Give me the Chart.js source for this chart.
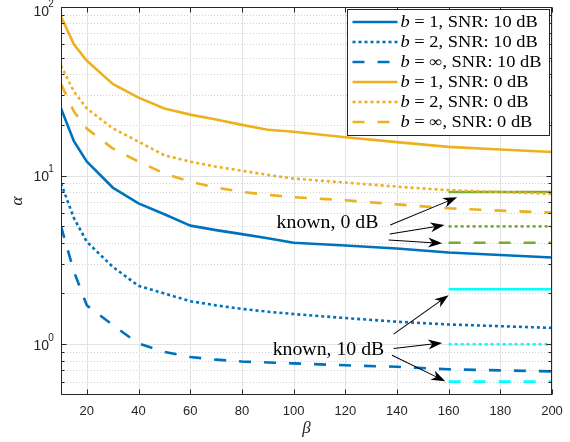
<!DOCTYPE html>
<html>
<head>
<meta charset="utf-8">
<script src="https://cdn.jsdelivr.net/npm/chart.js@4.4.0/dist/chart.umd.min.js"></script>
<style>
  body { margin: 0; background: #fff; }
  canvas { display: block; }
</style>
</head>
<body>
<canvas id="alphaChart" width="570" height="442"></canvas>
<script>
// beta values where the curves were sampled
const betaValues = [10, 15, 20, 30, 40, 50, 60, 70, 80, 90, 100, 120, 140, 160, 180, 200];

// alpha, SNR 10 dB
const alphaB1Snr10 = [25, 16, 12.1, 8.5, 6.85, 5.9, 5.05, 4.75, 4.5, 4.25, 4.0, 3.85, 3.7, 3.5, 3.38, 3.27];
const alphaB2Snr10 = [9.0, 5.6, 4.05, 2.88, 2.22, 2.0, 1.8, 1.7, 1.62, 1.56, 1.51, 1.43, 1.36, 1.31, 1.28, 1.25];
const alphaBinfSnr10 = [5.0, 2.7, 1.7, 1.3, 1.01, 0.9, 0.84, 0.81, 0.79, 0.78, 0.77, 0.75, 0.735, 0.71, 0.70, 0.69];

// alpha, SNR 0 dB
const alphaB1Snr0 = [88, 60, 48, 35, 29, 25, 23, 21.5, 20, 18.7, 18.2, 16.9, 15.8, 14.8, 14.3, 13.8];
const alphaB2Snr0 = [45, 31.5, 25, 19.1, 15.9, 13.2, 12.1, 11.3, 10.7, 10.1, 9.6, 9.1, 8.6, 8.2, 8.0, 7.8];
const alphaBinfSnr0 = [35, 24, 19, 14.5, 12.1, 10.3, 9.2, 8.5, 8.0, 7.7, 7.45, 7.15, 6.75, 6.4, 6.2, 6.03];

// "known" levels (b = 1, 2, inf), drawn over beta 160..200
const knownBeta = [160, 200];
const known0dB = [8.0, 5.0, 4.0];
const known10dB = [2.12, 1.0, 0.6];

// axis ticks
const xTicks = [20, 40, 60, 80, 100, 120, 140, 160, 180, 200];
const yMajorTicks = [1, 10, 100];
const yMinorTicks = [0.6, 0.7, 0.8, 0.9, 2, 3, 4, 5, 6, 7, 8, 9, 20, 30, 40, 50, 60, 70, 80, 90];

const legendLabels = [
  "b = 1, SNR: 10 dB", "b = 2, SNR: 10 dB", "b = \u221e, SNR: 10 dB",
  "b = 1, SNR: 0 dB", "b = 2, SNR: 0 dB", "b = \u221e, SNR: 0 dB"
];

const BLUE = "#0072bd", YELLOW = "#edb120", GREEN = "#77ac30", CYAN = "#00ffff";
const SOLID = [], DOTTED = [3, 3], DASHED = [12, 13];
const SANS = "'Liberation Sans', Arial, sans-serif";
const SERIF = "'Liberation Serif', 'Times New Roman', serif";

function series(values) {
  return betaValues.map((b, i) => ({ x: b, y: values[i] }));
}
function flat(level) {
  return knownBeta.map(b => ({ x: b, y: level }));
}
function line(label, data, color, dash) {
  return { label, data, borderColor: color, borderDash: dash, borderWidth: 2.6, fill: false };
}

const datasets = [
  line(legendLabels[0], series(alphaB1Snr10), BLUE, SOLID),
  line(legendLabels[1], series(alphaB2Snr10), BLUE, DOTTED),
  line(legendLabels[2], series(alphaBinfSnr10), BLUE, DASHED),
  line(legendLabels[3], series(alphaB1Snr0), YELLOW, SOLID),
  line(legendLabels[4], series(alphaB2Snr0), YELLOW, DOTTED),
  line(legendLabels[5], series(alphaBinfSnr0), YELLOW, DASHED),
  line("known 0 dB, b=1", flat(known0dB[0]), GREEN, SOLID),
  line("known 0 dB, b=2", flat(known0dB[1]), GREEN, DOTTED),
  line("known 0 dB, b=inf", flat(known0dB[2]), GREEN, DASHED),
  line("known 10 dB, b=1", flat(known10dB[0]), CYAN, SOLID),
  line("known 10 dB, b=2", flat(known10dB[1]), CYAN, DOTTED),
  line("known 10 dB, b=inf", flat(known10dB[2]), CYAN, DASHED)
];

// text + arrows, in data coordinates
const notes = [
  { text: "known, 0 dB", at: [132.8, 4.87],
    arrows: [[[137.4, 5.09], [163.3, 7.44]], [[137.2, 4.5], [158.4, 5.09]], [[136.8, 4.15], [157.5, 3.97]]] },
  { text: "known, 10 dB", at: [135.1, 0.86],
    arrows: [[[138.7, 1.147], [160.0, 1.955]], [[138.7, 0.943], [157.5, 1.018]], [[138.1, 0.86], [158.7, 0.603]]] }
];

function hLine(ctx, x0, x1, y) { ctx.beginPath(); ctx.moveTo(x0, y); ctx.lineTo(x1, y); ctx.stroke(); }
function vLine(ctx, x, y0, y1) { ctx.beginPath(); ctx.moveTo(x, y0); ctx.lineTo(x, y1); ctx.stroke(); }

// serif text stretched a bit, to get closer to the wide LaTeX look
function wideText(ctx, text, x, y, stretch) {
  ctx.save();
  ctx.translate(x, y);
  ctx.scale(stretch, 1);
  ctx.fillText(text, 0, 0);
  ctx.restore();
  return ctx.measureText(text).width * stretch;
}

/* MATLAB-ish axes: grid under the lines, box + inward ticks + labels on top */
const matlabAxes = {
  id: "matlabAxes",
  beforeDatasetsDraw(chart) {
    const { ctx, chartArea: a, scales: { x, y } } = chart;
    ctx.save();
    ctx.lineWidth = 1;
    ctx.strokeStyle = "#d2d2d2";
    ctx.setLineDash([1, 2]);
    yMinorTicks.forEach(v => hLine(ctx, a.left, a.right, Math.round(y.getPixelForValue(v)) + 0.5));
    ctx.setLineDash([]);
    ctx.strokeStyle = "#e2e2e2";
    xTicks.forEach(v => vLine(ctx, Math.round(x.getPixelForValue(v)) + 0.5, a.top, a.bottom));
    yMajorTicks.forEach(v => hLine(ctx, a.left, a.right, Math.round(y.getPixelForValue(v)) + 0.5));
    ctx.restore();
  },
  afterDatasetsDraw(chart) {
    const { ctx, chartArea: a, scales: { x, y } } = chart;
    const L = Math.round(a.left) + 0.5, R = Math.round(a.right) - 0.5;
    const T = Math.round(a.top) + 0.5, B = Math.round(a.bottom) - 0.5;
    ctx.save();
    ctx.strokeStyle = "#262626";
    ctx.lineWidth = 1;
    ctx.strokeRect(L, T, R - L, B - T);
    xTicks.forEach(v => {
      const px = Math.round(x.getPixelForValue(v)) + 0.5;
      vLine(ctx, px, B, B - 5);
      vLine(ctx, px, T, T + 5);
    });
    yMajorTicks.concat(yMinorTicks).forEach(v => {
      const py = Math.round(y.getPixelForValue(v)) + 0.5;
      const len = yMajorTicks.includes(v) ? 5 : 3;
      hLine(ctx, L, L + len, py);
      hLine(ctx, R, R - len, py);
    });

    ctx.fillStyle = "#262626";
    ctx.font = "13px " + SANS;
    ctx.textAlign = "center";
    ctx.textBaseline = "middle";
    xTicks.forEach(v => ctx.fillText(String(v), x.getPixelForValue(v), a.bottom + 16));

    yMajorTicks.forEach(v => {
      const py = Math.max(y.getPixelForValue(v) + 2, 12);
      const exp = String(Math.round(Math.log10(v)));
      ctx.font = "10px " + SANS;
      const ew = ctx.measureText(exp).width;
      ctx.textAlign = "left";
      ctx.fillText(exp, a.left - 11 - ew / 2 + 1, py - 8);
      ctx.font = "14px " + SANS;
      ctx.textAlign = "right";
      ctx.fillText("10", a.left - 12, py);
    });

    ctx.fillStyle = "#262626";
    ctx.font = "italic 17px " + SERIF;
    ctx.textAlign = "center";
    ctx.fillText("\u03b2", (a.left + a.right) / 2, 429);
    ctx.save();
    ctx.translate(18, (a.top + a.bottom) / 2);
    ctx.rotate(-Math.PI / 2);
    ctx.fillText("\u03b1", 0, 0);
    ctx.restore();
    ctx.restore();
  }
};

const customLegend = {
  id: "customLegend",
  afterDatasetsDraw(chart) {
    const { ctx, chartArea: a } = chart;
    const w = 202, h = 126;
    const left = Math.round(a.right) - 3.5 - w + 1, top = Math.round(a.top) + 2.5;
    ctx.save();
    ctx.fillStyle = "#fff";
    ctx.fillRect(left, top, w, h);
    ctx.strokeStyle = "#262626";
    ctx.lineWidth = 1;
    ctx.strokeRect(left, top, w, h);
    legendLabels.forEach((label, i) => {
      const ds = chart.data.datasets[i];
      const cy = top + 12.5 + 20 * i;
      ctx.strokeStyle = ds.borderColor;
      ctx.lineWidth = ds.borderWidth;
      ctx.setLineDash(ds.borderDash);
      ctx.lineCap = "butt";
      hLine(ctx, left + 5, left + 50, cy);
      ctx.setLineDash([]);
      ctx.fillStyle = "#000";
      ctx.textBaseline = "middle";
      ctx.textAlign = "left";
      ctx.font = "italic 16px " + SERIF;
      const tx = left + 53;
      const bw = wideText(ctx, label[0], tx, cy + 1, 1.15);
      ctx.font = "16px " + SERIF;
      wideText(ctx, label.slice(1), tx + bw, cy + 1, 1.15);
    });
    ctx.restore();
  }
};

function drawArrow(ctx, x0, y0, x1, y1) {
  const ang = Math.atan2(y1 - y0, x1 - x0);
  const dist = Math.hypot(x1 - x0, y1 - y0);
  const len = 14, half = 5, notch = 4;
  ctx.save();
  ctx.translate(x1, y1);
  ctx.rotate(ang);
  ctx.lineWidth = 1;
  ctx.beginPath();
  ctx.moveTo(-dist, 0);
  ctx.lineTo(-len + notch, 0);
  ctx.stroke();
  ctx.beginPath();
  ctx.moveTo(0, 0);
  ctx.lineTo(-len, -half);
  ctx.lineTo(-len + notch, 0);
  ctx.lineTo(-len, half);
  ctx.closePath();
  ctx.fill();
  ctx.restore();
}

const knownNotes = {
  id: "knownNotes",
  afterDatasetsDraw(chart) {
    const { ctx, scales: { x, y } } = chart;
    ctx.save();
    ctx.fillStyle = "#000";
    ctx.strokeStyle = "#000";
    notes.forEach(n => {
      ctx.font = "18px " + SERIF;
      ctx.textAlign = "right";
      ctx.textBaseline = "alphabetic";
      wideText(ctx, n.text, x.getPixelForValue(n.at[0]), y.getPixelForValue(n.at[1]), 1.1);
      n.arrows.forEach(([from, to]) => {
        drawArrow(ctx, x.getPixelForValue(from[0]), y.getPixelForValue(from[1]),
                       x.getPixelForValue(to[0]), y.getPixelForValue(to[1]));
      });
    });
    ctx.restore();
  }
};

new Chart(document.getElementById("alphaChart"), {
  type: "line",
  data: { datasets },
  options: {
    responsive: false,
    animation: false,
    devicePixelRatio: 1,
    layout: { padding: { top: 7, right: 18, left: 0, bottom: 0 } },
    plugins: { legend: { display: false }, tooltip: { enabled: false } },
    elements: {
      point: { radius: 0 },
      line: { tension: 0, borderCapStyle: "butt", borderJoinStyle: "round" }
    },
    scales: {
      x: {
        type: "linear", min: 10, max: 200,
        ticks: { display: false }, grid: { display: false }, border: { display: false },
        afterFit: s => { s.height = 47; }
      },
      y: {
        type: "logarithmic", min: 0.5, max: 100,
        ticks: { display: false }, grid: { display: false }, border: { display: false },
        afterFit: s => { s.width = 61; }
      }
    }
  },
  plugins: [matlabAxes, customLegend, knownNotes]
});
</script>
</body>
</html>
